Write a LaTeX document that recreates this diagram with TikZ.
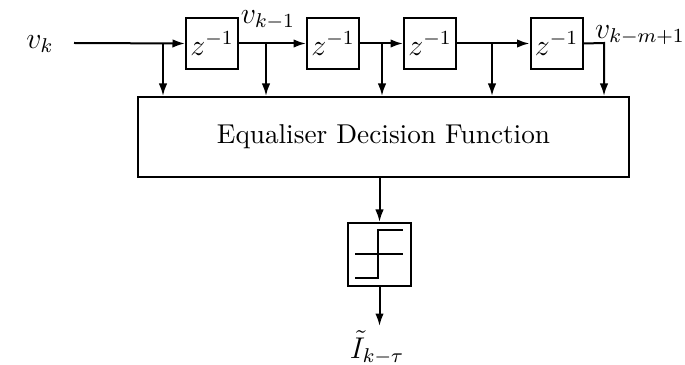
\documentclass[tikz,border=0pt]{standalone}
\usetikzlibrary{arrows.meta}
\begin{document}
\begin{tikzpicture}[x=0.4pt,y=-0.4pt,
  line width=0.8pt,
  arr/.style={-{Latex[length=5pt,width=3.4pt]}},
  delaybox/.style={draw,minimum width=20.8pt,minimum height=20.4pt,inner sep=0pt,font=\large},
  bigbox/.style={draw,minimum width=196.4pt,minimum height=32pt,inner sep=0pt,font=\fontsize{10.9}{13}\selectfont},
  slicerbox/.style={draw,minimum width=25.2pt,minimum height=25.2pt,inner sep=0pt},
  lbl/.style={inner sep=0pt,font=\large}]
\useasboundingbox (0,0) rectangle (685,365);
\node[lbl] (vk) at (40,44) {$v_k$};
\coordinate (in) at (74,43);
\node[delaybox] (d1) at (212,43.5) {$z^{-1}$};
\node[delaybox] (d2) at (333,43.5) {$z^{-1}$};
\node[delaybox] (d3) at (430,43.5) {$z^{-1}$};
\node[delaybox] (d4) at (556.5,43.5) {$z^{-1}$};
\node[bigbox] (eq) at (383.5,137) {Equaliser Decision Function};
\node[slicerbox] (sl) at (379.5,254.5) {};
\coordinate (t1) at (163,43);
\coordinate (t2) at (266,43);
\coordinate (t3) at (382,43);
\coordinate (t4) at (492,43);
\coordinate (t5) at (604,43);
\coordinate (out) at (379.5,326);
\node[lbl] (vk1) at (268,20) {$v_{k-1}$};
\node[lbl] (vkm) at (640,35) {$v_{k-m+1}$};
\node[lbl] (ik) at (377,348) {$\tilde{I}_{k-\tau}$};
% delay line
\draw[arr] (in) -- (d1.west);
\draw[arr] (d1.east) -- (d2.west);
\draw[arr] (d2.east) -- (d3.west);
\draw[arr] (d3.east) -- (d4.west);
\draw[arr] (d4.east) -- (t5) -- (t5 |- eq.north);
% taps
\draw[arr] (t1) -- (t1 |- eq.north);
\draw[arr] (t2) -- (t2 |- eq.north);
\draw[arr] (t3) -- (t3 |- eq.north);
\draw[arr] (t4) -- (t4 |- eq.north);
% decision
\draw[arr] (sl.north |- eq.south) -- (sl.north);
\draw[arr] (sl.south) -- (out);
% slicer symbol
\draw (355,254) -- (403,254);
\draw (355,278) -- (378,278) -- (378,230) -- (403,230);
\end{tikzpicture}
\end{document}
